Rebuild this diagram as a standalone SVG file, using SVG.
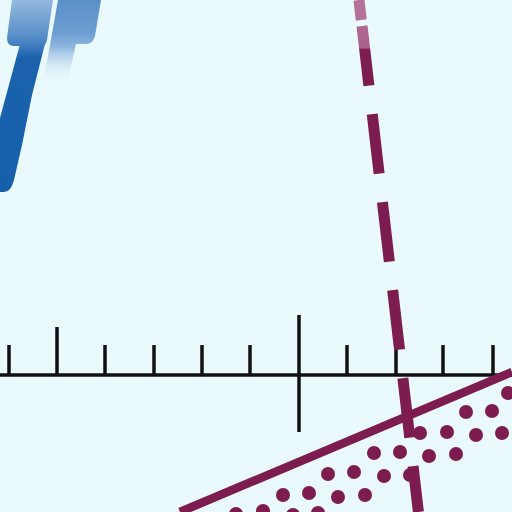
<svg xmlns="http://www.w3.org/2000/svg" width="512" height="512" viewBox="0 0 512 512">
  <defs>
    <linearGradient id="gBlueL" gradientUnits="userSpaceOnUse" x1="0" y1="0" x2="0" y2="192">
      <stop offset="0" stop-color="#93b9df"/>
      <stop offset="0.16" stop-color="#6196cc"/>
      <stop offset="0.24" stop-color="#3f7cbf"/>
      <stop offset="0.3" stop-color="#1c62ad"/>
      <stop offset="1" stop-color="#1660ab"/>
    </linearGradient>
    <linearGradient id="gBlueR" gradientUnits="userSpaceOnUse" x1="0" y1="0" x2="0" y2="84">
      <stop offset="0" stop-color="#5a8fc8"/>
      <stop offset="0.4" stop-color="#6f9fd2"/>
      <stop offset="0.55" stop-color="#8cb4de"/>
      <stop offset="1" stop-color="#e9f9fc" stop-opacity="0"/>
    </linearGradient>
    <linearGradient id="gDash" gradientUnits="userSpaceOnUse" x1="0" y1="0" x2="0" y2="512">
      <stop offset="0" stop-color="#b4729b"/>
      <stop offset="0.093" stop-color="#a9618c"/>
      <stop offset="0.097" stop-color="#7d1d4f"/>
      <stop offset="1" stop-color="#7d1d4f"/>
    </linearGradient>
    <style>
      .axis{stroke:#111;stroke-width:3.5;fill:none}
      .tick{stroke:#111;stroke-width:3.5}
      .dot{fill:#7d1d4f}
    </style>
  </defs>
  <rect width="512" height="512" fill="#e9f9fc"/>

  <g id="brush-left">
    <path d="M12,0 L53,0 L47,40 Q46,46 40,46 L14,46 Q7,46 7,38 Z" fill="url(#gBlueL)"/>
    <path d="M20,44 L45,44 L32,95 L22,145 L14,180 Q11,192 4,192 L0,192 L0,118 Z" fill="url(#gBlueL)"/>
  </g>
  <g id="brush-right">
    <path d="M58,0 L101,0 L95,36 Q93,44 86,44 L76,44 L67,84 L43,84 Z" fill="url(#gBlueR)"/>
  </g>

  <g id="axis">
    <line class="axis" x1="0" y1="375" x2="512" y2="375"/>
    <line class="tick" x1="9" y1="345" x2="9" y2="375"/>
    <line class="tick" x1="57" y1="327" x2="57" y2="375"/>
    <line class="tick" x1="105" y1="345" x2="105" y2="375"/>
    <line class="tick" x1="154" y1="345" x2="154" y2="375"/>
    <line class="tick" x1="202" y1="345" x2="202" y2="375"/>
    <line class="tick" x1="250" y1="345" x2="250" y2="375"/>
    <line class="tick" x1="299" y1="315" x2="299" y2="432" stroke-width="4.5"/>
    <line class="tick" x1="347" y1="345" x2="347" y2="375"/>
    <line class="tick" x1="396" y1="345" x2="396" y2="375"/>
    <line class="tick" x1="443" y1="345" x2="443" y2="375"/>
    <line class="tick" x1="493" y1="345" x2="493" y2="375"/>
  </g>

  <g id="connectors">
    <line x1="359" y1="0" x2="361.3" y2="20" stroke="#b4729b" stroke-width="11"/>
    <line x1="362" y1="26" x2="418.4" y2="512" stroke="url(#gDash)" stroke-width="11" stroke-dasharray="60 28.6"/>
    <line x1="180" y1="512" x2="512" y2="372" stroke="#7d1d4f" stroke-width="8.5"/>
  </g>

  <g id="dots">
    <circle class="dot" cx="508" cy="393" r="7"/>
    <circle class="dot" cx="466" cy="412" r="7"/>
    <circle class="dot" cx="492" cy="411" r="7"/>
    <circle class="dot" cx="420" cy="433" r="7"/>
    <circle class="dot" cx="447" cy="432" r="7"/>
    <circle class="dot" cx="476" cy="435" r="7"/>
    <circle class="dot" cx="502" cy="433" r="7"/>
    <circle class="dot" cx="374" cy="453" r="7"/>
    <circle class="dot" cx="400" cy="452" r="7"/>
    <circle class="dot" cx="429" cy="456" r="7"/>
    <circle class="dot" cx="456" cy="454" r="7"/>
    <circle class="dot" cx="328" cy="474" r="7"/>
    <circle class="dot" cx="354" cy="472" r="7"/>
    <circle class="dot" cx="384" cy="476" r="7"/>
    <circle class="dot" cx="410" cy="475" r="7"/>
    <circle class="dot" cx="283" cy="495" r="7"/>
    <circle class="dot" cx="309" cy="493" r="7"/>
    <circle class="dot" cx="338" cy="497" r="7"/>
    <circle class="dot" cx="365" cy="495" r="7"/>
    <circle class="dot" cx="236" cy="514" r="7"/>
    <circle class="dot" cx="263" cy="511" r="7"/>
    <circle class="dot" cx="293" cy="515" r="7"/>
    <circle class="dot" cx="318" cy="513" r="7"/>
  </g>
</svg>
